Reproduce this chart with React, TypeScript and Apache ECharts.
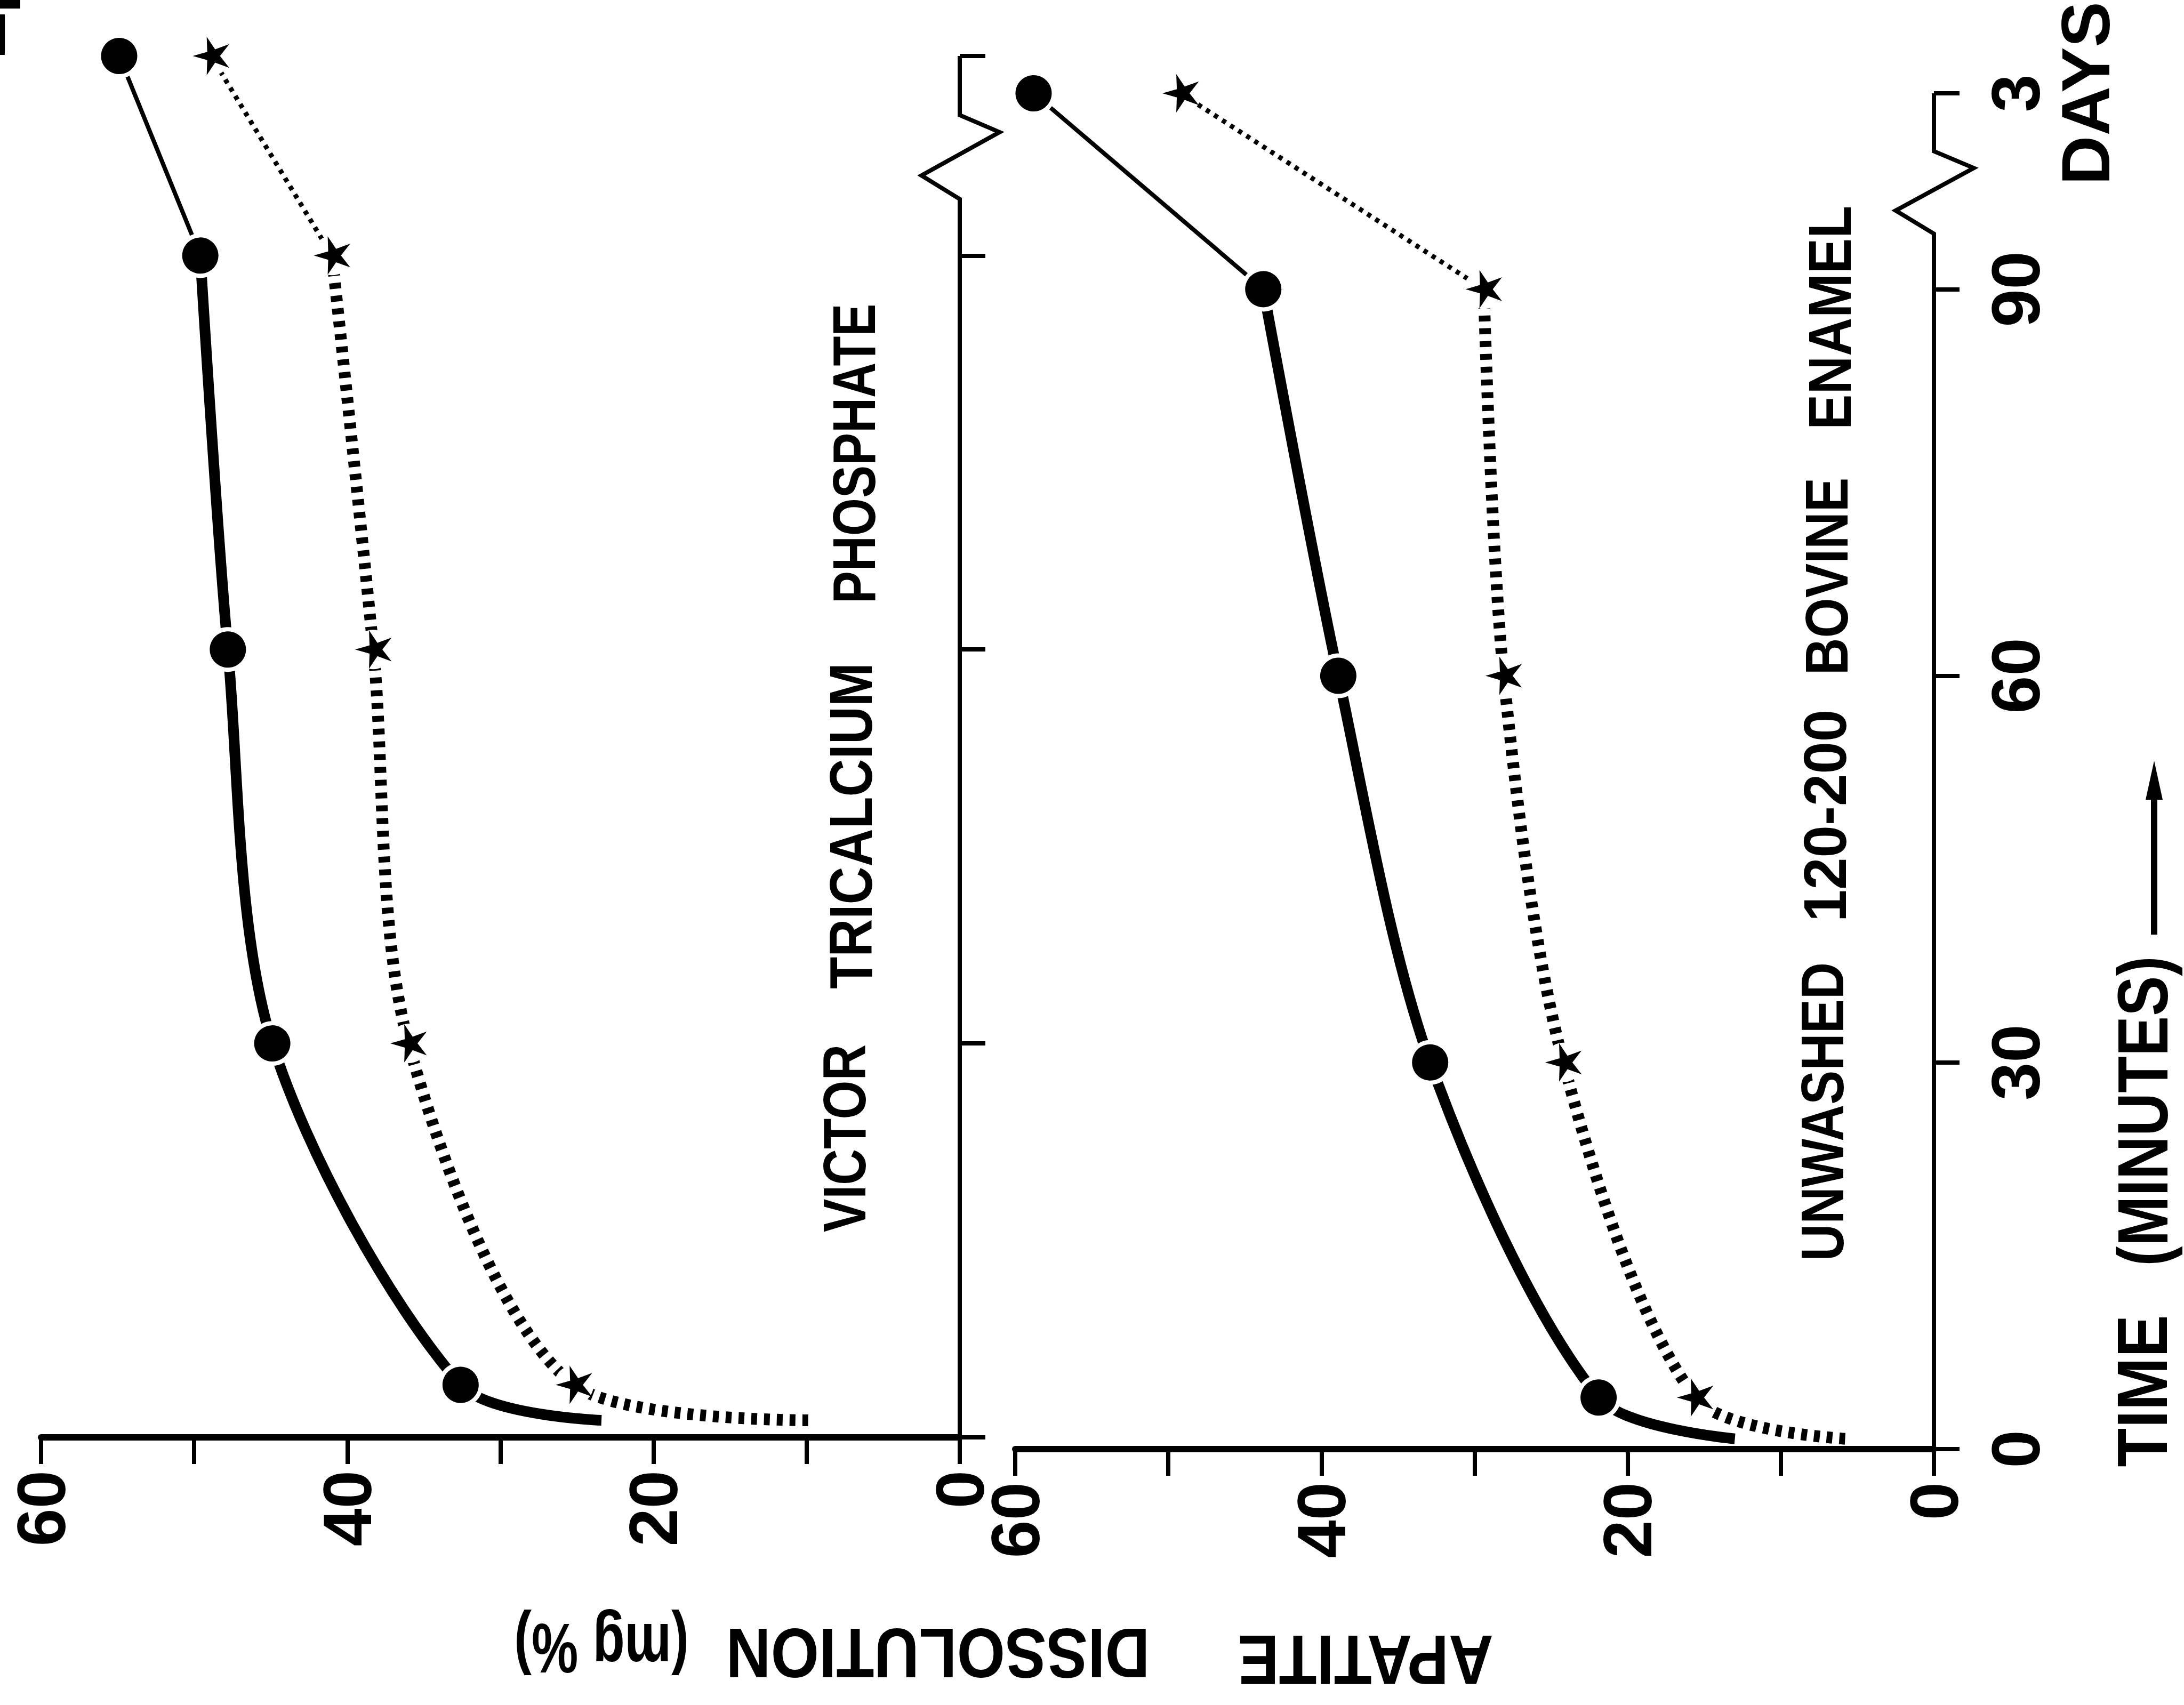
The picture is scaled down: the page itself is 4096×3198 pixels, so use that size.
import React, { useEffect, useRef } from 'react';
import * as echarts from 'echarts';

const W = 4096;
const H = 3198;

// Time axis (minutes). The "3 days" point sits after an axis break; TDAYS is its position on the axis.
const TDAYS = 105.2;
const TIMES = [4, 30, 60, 90, TDAYS];
const DISSOLUTION_LABELS = [0, 20, 40, 60];

// Victor tricalcium phosphate (left panel)
const TCP_START_T = 1.3;
const TCP_CIRCLE_START = 23.4;
const TCP_STAR_START = 9.9;
const TCP_CIRCLE = [32.6, 44.9, 47.8, 49.6, 54.9];
const TCP_STAR = [25.2, 36.0, 38.3, 41.0, 48.9];

// Unwashed 120-200 bovine enamel (right panel)
const EN_START_T = 0.8;
const EN_CIRCLE_START = 13.0;
const EN_STAR_START = 5.8;
const EN_CIRCLE = [21.9, 32.9, 38.9, 43.8, 58.8];
const EN_STAR = [15.6, 24.2, 28.1, 29.4, 49.2];

// time-axis line with its break (zigzag), in data units
const BREAK_T = [0, 94.3, 96.1, 99.4, 100.7, TDAYS];
const BREAK_X = [0, 0, 2.5, -2.6, 0, 0];

const STAR_PATH =
  'path://M0,50L35.85,60.3L34.55,97.55L55.4,66.65L90.45,79.4L67.5,50L90.45,20.6L55.4,33.35L34.55,2.45L35.85,39.7Z';

const FONT = '"Liberation Sans", Arial, sans-serif';

function panelSeries(i: number, startT: number, cStart: number, sStart: number, circ: number[], star: number[]) {
  const base = { xAxisIndex: i, yAxisIndex: i, silent: true, animation: false };
  const mainT = TIMES.slice(0, 4);
  return [
    {
      ...base,
      type: 'line',
      data: [[cStart, startT], ...mainT.map((t, k) => [circ[k], t])],
      symbol: 'none',
      smooth: 0.3,
      clip: false,
      lineStyle: { color: '#000', width: 20, cap: 'butt' },
      z: 2,
    },
    {
      ...base,
      type: 'line',
      data: [[circ[3], TIMES[3]], [circ[4], TIMES[4]]],
      symbol: 'none',
      clip: false,
      lineStyle: { color: '#000', width: 8 },
      z: 2,
    },
    {
      ...base,
      type: 'line',
      data: [[sStart, startT], ...mainT.map((t, k) => [star[k], t])],
      symbol: 'none',
      smooth: 0.3,
      clip: false,
      lineStyle: { color: '#000', width: 22, type: [11, 13], cap: 'butt' },
      z: 2,
    },
    {
      ...base,
      type: 'line',
      data: [[star[3], TIMES[3]], [star[4], TIMES[4]]],
      symbol: 'none',
      clip: false,
      lineStyle: { color: '#000', width: 9, type: [8, 10], cap: 'butt' },
      z: 2,
    },
    {
      ...base,
      type: 'scatter',
      data: TIMES.map((t, k) => [circ[k], t]),
      symbol: 'circle',
      symbolSize: 76,
      clip: false,
      itemStyle: { color: '#000', borderColor: '#fff', borderWidth: 8, opacity: 1 },
      z: 6,
    },
    {
      ...base,
      type: 'scatter',
      data: TIMES.map((t, k) => [star[k], t]),
      symbol: 'circle',
      symbolSize: 74,
      clip: false,
      itemStyle: { color: '#fff', opacity: 1 },
      z: 5,
    },
    {
      ...base,
      type: 'scatter',
      data: TIMES.map((t, k) => [star[k], t]),
      symbol: STAR_PATH,
      symbolKeepAspect: true,
      symbolSize: 72,
      clip: false,
      itemStyle: { color: '#000', opacity: 1 },
      z: 6,
    },
  ];
}

function txt(text: string, x: number, y: number, size: number, rotation: number, scaleX: number) {
  return {
    type: 'text',
    x,
    y,
    rotation,
    scaleX,
    scaleY: 1,
    silent: true,
    style: {
      text,
      font: `bold ${size}px ${FONT}`,
      fill: '#000',
      align: 'center',
      verticalAlign: 'middle',
      textAlign: 'center',
      textVerticalAlign: 'middle',
    },
  };
}

export default function App() {
  const ref = useRef<HTMLDivElement>(null);

  useEffect(() => {
    if (!ref.current) return;
    const chart = echarts.init(ref.current, undefined, { renderer: 'svg', width: W, height: H });

    const xAxes = [0, 1].map((i) => ({
      gridIndex: i,
      type: 'value',
      min: 0,
      max: 60,
      interval: 10,
      inverse: true,
      position: 'bottom',
      axisLine: { show: true, onZero: false, lineStyle: { color: '#000', width: 12 } },
      axisTick: { show: true, length: 50, lineStyle: { color: '#000', width: 8 } },
      axisLabel: {
        show: true,
        rotate: 90,
        margin: 62,
        fontSize: 128,
        fontWeight: 'bold',
        fontFamily: FONT,
        color: '#000',
        showMinLabel: true,
        showMaxLabel: true,
        formatter: (v: number) => (DISSOLUTION_LABELS.includes(v) ? String(v) : ''),
      },
      splitLine: { show: false },
    }));

    const yAxes = [0, 1].map((i) => ({
      gridIndex: i,
      type: 'value',
      min: 0,
      max: TDAYS,
      interval: 30,
      position: 'right',
      axisLine: { show: false, onZero: false },
      axisTick: { show: true, length: 48, lineStyle: { color: '#000', width: 8 } },
      axisLabel: {
        show: i === 1,
        rotate: 90,
        margin: 88,
        fontSize: 128,
        lineHeight: 131,
        fontWeight: 'bold',
        fontFamily: FONT,
        color: '#000',
        showMinLabel: true,
        showMaxLabel: true,
        formatter: (v: number) => (Math.abs(v - TDAYS) < 1e-6 ? '3\nDAYS' : String(v)),
      },
      splitLine: { show: false },
    }));

    const option = {
      animation: false,
      backgroundColor: '#fff',
      grid: [
        { left: 77, top: 105, width: 1723, height: 2591, containLabel: false },
        { left: 1904, top: 127, width: 1723, height: 2591, containLabel: false },
      ],
      xAxis: xAxes,
      yAxis: yAxes,
      series: [
        ...panelSeries(0, TCP_START_T, TCP_CIRCLE_START, TCP_STAR_START, TCP_CIRCLE, TCP_STAR),
        ...panelSeries(1, EN_START_T, EN_CIRCLE_START, EN_STAR_START, EN_CIRCLE, EN_STAR),
      ],
    };

    chart.setOption(option as any);

    // time-axis line with zigzag break, placed through the chart's own scales
    const breakLines = [0, 1].map((i) => ({
      type: 'polyline',
      silent: true,
      z: 3,
      shape: {
        points: BREAK_X.map((x, k) => chart.convertToPixel({ gridIndex: i } as any, [x, BREAK_T[k]]) as number[]),
      },
      style: { stroke: '#000', lineWidth: 8, fill: null, lineJoin: 'miter' },
    }));

    chart.setOption({
      graphic: [
        ...breakLines,
        txt('VICTOR', 1584, 2135, 113, Math.PI / 2, 0.83),
        txt('TRICALCIUM', 1596, 1549, 113, Math.PI / 2, 0.87),
        txt('PHOSPHATE', 1602, 851, 113, Math.PI / 2, 0.81),
        txt('UNWASHED', 3418, 2085, 113, Math.PI / 2, 0.85),
        txt('120-200', 3423, 1530, 113, Math.PI / 2, 0.96),
        txt('BOVINE', 3426, 1081, 113, Math.PI / 2, 0.855),
        txt('ENAMEL', 3432, 596, 113, Math.PI / 2, 0.88),
        txt('TIME', 4018, 2609, 134, Math.PI / 2, 0.89),
        txt('(MINUTES)', 4018, 2084, 134, Math.PI / 2, 0.84),
        txt('APATITE', 2561, 3113, 131, Math.PI, 0.887),
        txt('DISSOLUTION', 1759, 3100, 131, Math.PI, 0.888),
        txt('(mg %)', 1128, 3091, 131, Math.PI, 0.75),
        {
          type: 'line',
          silent: true,
          shape: { x1: 4040, y1: 1753, x2: 4040, y2: 1470 },
          style: { stroke: '#000', lineWidth: 12 },
        },
        {
          type: 'polygon',
          silent: true,
          shape: { points: [[4040, 1427], [4024, 1500], [4056, 1500]] },
          style: { fill: '#000' },
        },
        { type: 'rect', silent: true, shape: { x: 0, y: 0, width: 38, height: 16 }, style: { fill: '#000' } },
        { type: 'rect', silent: true, shape: { x: 0, y: 27, width: 9, height: 76 }, style: { fill: '#000' } },
      ],
    } as any);

    return () => {
      chart.dispose();
    };
  }, []);

  return (
    <div
      ref={ref}
      style={{ position: 'absolute', left: 0, top: 0, width: W, height: H, background: '#fff' }}
    />
  );
}
